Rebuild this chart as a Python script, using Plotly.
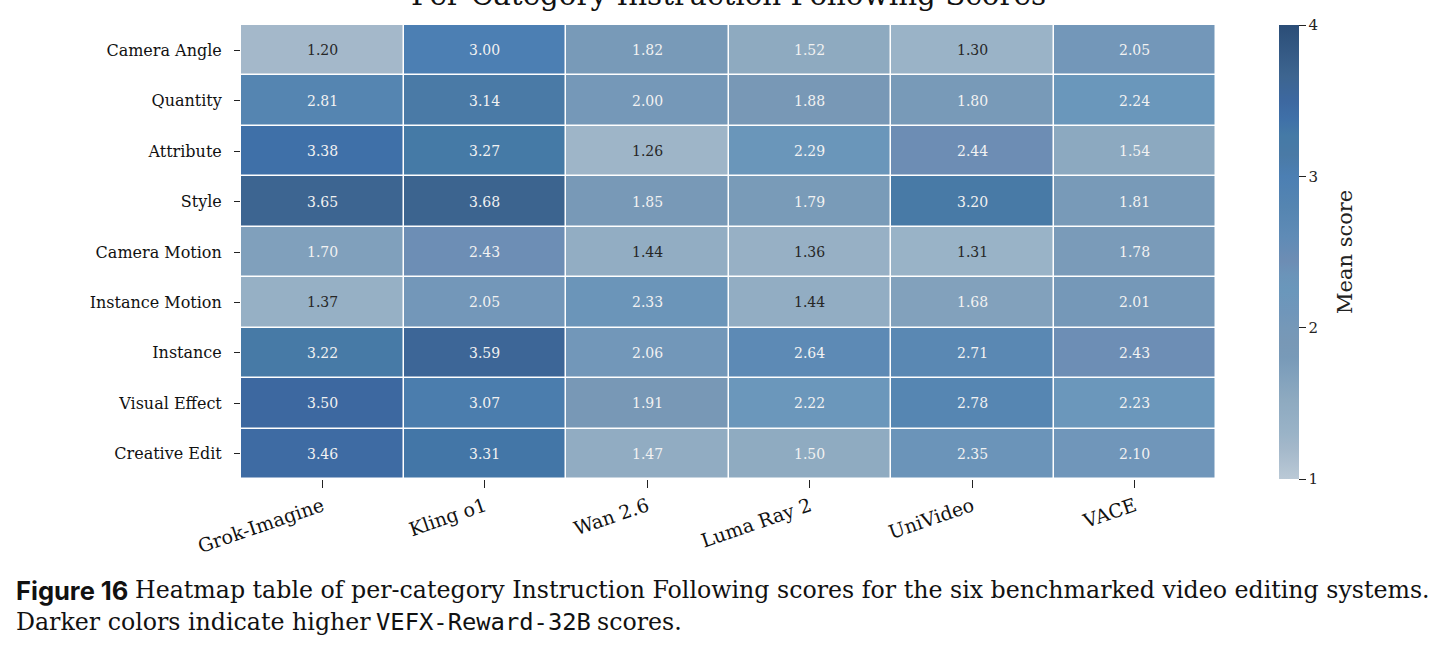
import plotly.graph_objects as go

models = ["Grok-Imagine", "Kling o1", "Wan 2.6", "Luma Ray 2", "UniVideo", "VACE"]
categories = ["Camera Angle", "Quantity", "Attribute", "Style", "Camera Motion",
              "Instance Motion", "Instance", "Visual Effect", "Creative Edit"]

camera_angle = [1.20, 3.00, 1.82, 1.52, 1.30, 2.05]
quantity = [2.81, 3.14, 2.00, 1.88, 1.80, 2.24]
attribute = [3.38, 3.27, 1.26, 2.29, 2.44, 1.54]
style = [3.65, 3.68, 1.85, 1.79, 3.20, 1.81]
camera_motion = [1.70, 2.43, 1.44, 1.36, 1.31, 1.78]
instance_motion = [1.37, 2.05, 2.33, 1.44, 1.68, 2.01]
instance = [3.22, 3.59, 2.06, 2.64, 2.71, 2.43]
visual_effect = [3.50, 3.07, 1.91, 2.22, 2.78, 2.23]
creative_edit = [3.46, 3.31, 1.47, 1.50, 2.35, 2.10]

colorbar_ticks = [1, 2, 3, 4]

z = [camera_angle, quantity, attribute, style, camera_motion,
     instance_motion, instance, visual_effect, creative_edit]

zmin, zmax = 1.0, 4.0
stops = [
    (1.00, "#bac9d6"), (1.20, "#a4b8ca"), (1.30, "#9ab3c7"), (1.44, "#92adc3"),
    (1.52, "#8eaac0"), (1.70, "#80a0bc"), (1.80, "#789ab8"), (1.90, "#7898b6"),
    (2.00, "#7598b8"), (2.10, "#7096ba"), (2.25, "#6a97bb"), (2.35, "#6b94b9"),
    (2.44, "#6d8db4"), (2.60, "#5f8bb6"), (2.80, "#5585b1"), (3.00, "#4c7fb3"),
    (3.14, "#4a7aa6"), (3.27, "#457aa6"), (3.38, "#3f70a8"), (3.50, "#3d68a0"),
    (3.66, "#3d6590"), (4.00, "#2b4d77"),
]
colorscale = [[(v - zmin) / (zmax - zmin), c] for v, c in stops]

SERIF = "DejaVu Serif"
W, H = 1447, 653
ML, MR, MT, MB = 241, 231, 25, 174
PW, PH = W - ML - MR, H - MT - MB


def px_to_paper(px, py):
    return (px - ML) / PW, (H - MB - py) / PH


fig = go.Figure()
fig.add_trace(go.Heatmap(
    z=z, x=models, y=categories,
    zmin=zmin, zmax=zmax, colorscale=colorscale,
    xgap=1.5, ygap=1.5,
    colorbar=dict(
        x=(1279 - ML) / PW, xanchor="left", xref="paper", xpad=0, ypad=0,
        y=0.5, yanchor="middle", len=1.0, lenmode="fraction",
        thickness=20, outlinewidth=0,
        tickvals=colorbar_ticks, ticks="outside", ticklen=7, tickwidth=1.2,
        tickcolor="#222", tickfont=dict(family=SERIF, size=15, color="#222"),
    ),
    hoverinfo="skip",
))

annotations = []
for i, cat in enumerate(categories):
    for j, m in enumerate(models):
        v = z[i][j]
        annotations.append(dict(
            x=m, y=cat, xref="x", yref="y", text=f"{v:.2f}", showarrow=False,
            font=dict(family=SERIF, size=14,
                      color="#262626" if v < 1.45 else "#f2f2f2"),
        ))

# chart title (partly cut off at the top edge, as in the reference)
annotations.append(dict(
    x=0.5, y=1.025, xref="paper", yref="paper", xanchor="center", yanchor="bottom",
    text="Per-Category Instruction Following Scores", showarrow=False,
    font=dict(family=SERIF, size=29.4, color="#111"),
))

# colorbar title
tx, ty = px_to_paper(1345, 252)
annotations.append(dict(
    x=tx, y=ty, xref="paper", yref="paper", xanchor="center", yanchor="middle",
    text="Mean score", textangle=-90, showarrow=False,
    font=dict(family=SERIF, size=21, color="#222"),
))


# caption
def cap(px, py, text, family, size, color="#111"):
    x, y = px_to_paper(px, py)
    return dict(x=x, y=y, xref="paper", yref="paper", xanchor="left", yanchor="middle",
                showarrow=False, align="left", text=text,
                font=dict(family=family, size=size, color=color))


annotations.append(cap(14, 590, "<b>Figure 16</b>", "Inter", 25.5))
annotations.append(cap(133, 590,
    "Heatmap table of per-category Instruction Following scores for the six benchmarked video editing systems.",
    SERIF, 23.7))
annotations.append(cap(14, 622, "Darker colors indicate higher", SERIF, 23.7))
annotations.append(cap(374, 622, "VEFX-Reward-32B", "DejaVu Sans Mono", 23.8))
annotations.append(cap(595, 622, "scores.", SERIF, 23.7))

fig.update_layout(
    width=W, height=H,
    margin=dict(l=ML, r=MR, t=MT, b=MB),
    paper_bgcolor="white", plot_bgcolor="white",
    xaxis=dict(ticks="outside", ticklen=8, tickwidth=1.2, tickcolor="#222",
               tickangle=-19, tickfont=dict(family=SERIF, size=19, color="#111"),
               showgrid=False, zeroline=False, showline=False),
    yaxis=dict(autorange="reversed", ticks="outside", ticklen=6, tickwidth=1.2,
               tickcolor="#222", ticklabelstandoff=9,
               tickfont=dict(family=SERIF, size=16, color="#111"),
               showgrid=False, zeroline=False, showline=False),
    annotations=annotations,
)

fig.write_html("out.html")
